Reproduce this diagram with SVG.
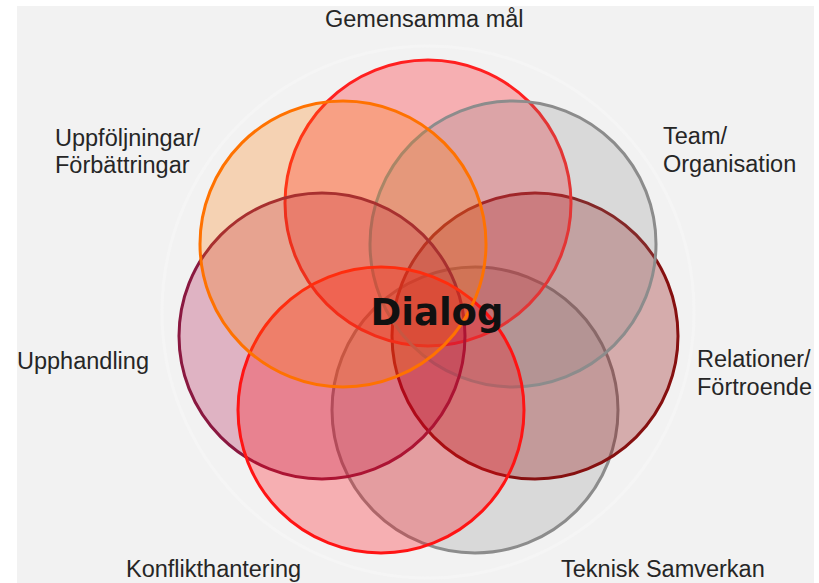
<svg xmlns="http://www.w3.org/2000/svg" width="819" height="583" viewBox="0 0 819 583">
<style>
.lbl{font-family:"Liberation Sans",Arial,sans-serif;font-size:23.5px;fill:#262626}
.c{stroke-width:3}
.dlg{font-family:"DejaVu Sans",sans-serif;font-weight:bold;font-size:37px;fill:#111;text-anchor:middle}
</style>
<rect x="0" y="0" width="819" height="583" fill="#ffffff"/>
<rect x="17" y="6" width="797" height="577" fill="#f2f2f2"/>
<circle cx="428" cy="312" r="266" fill="none" stroke="#f5f5f5" stroke-width="3"/>
<g id="teknisk-samverkan">
<circle class="c" cx="475" cy="410" r="143" fill="#808080" fill-opacity="0.22" stroke="#8c8c8c"/>
<text class="lbl" x="561" y="577">Teknisk Samverkan</text>
</g>
<g id="relationer">
<circle class="c" cx="535" cy="336" r="143" fill="#8c0000" fill-opacity="0.29" stroke="#861010"/>
<text class="lbl" x="697" y="367">Relationer/</text>
<text class="lbl" x="697" y="395">Förtroende</text>
</g>
<g id="gemensamma-mal">
<circle class="c" cx="428" cy="203" r="143" fill="#ff0a14" fill-opacity="0.29" stroke="#ff2020"/>
<text class="lbl" x="325" y="27">Gemensamma mål</text>
</g>
<g id="team">
<circle class="c" cx="513" cy="244" r="143" fill="#808080" fill-opacity="0.22" stroke="#8c8c8c"/>
<text class="lbl" x="663" y="144">Team/</text>
<text class="lbl" x="663" y="172">Organisation</text>
</g>
<g id="upphandling">
<circle class="c" cx="322" cy="336" r="143" fill="#aa003c" fill-opacity="0.26" stroke="#8a1840"/>
<text class="lbl" x="17" y="369">Upphandling</text>
</g>
<g id="konflikthantering">
<circle class="c" cx="381" cy="410" r="143" fill="#ff0a14" fill-opacity="0.29" stroke="#ff1414"/>
<text class="lbl" x="126" y="577">Konflikthantering</text>
</g>
<g id="uppfoljningar">
<circle class="c" cx="343" cy="244" r="143" fill="#ff7800" fill-opacity="0.26" stroke="#ff7200"/>
<text class="lbl" x="55" y="146">Uppföljningar/</text>
<text class="lbl" x="55" y="173">Förbättringar</text>
</g>
<g id="dialog">
<text class="dlg" x="437" y="325">Dialog</text>
</g>
</svg>
